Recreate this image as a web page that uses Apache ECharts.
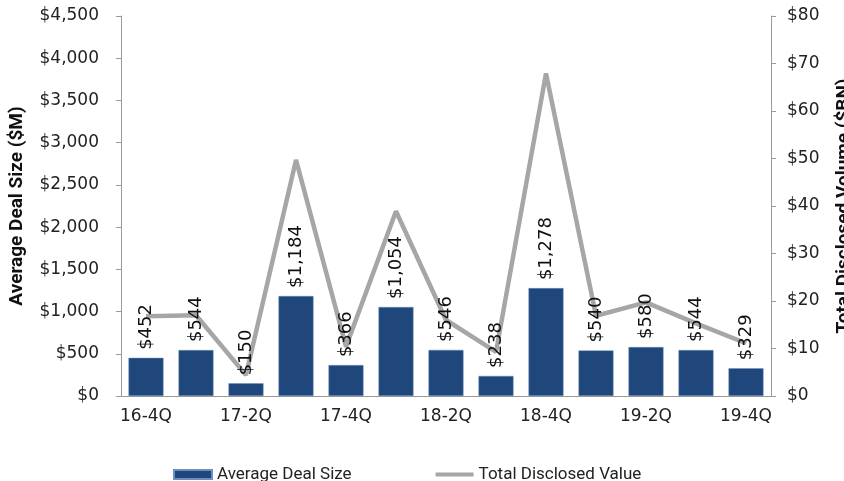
<!DOCTYPE html>
<html>
<head>
<meta charset="utf-8">
<script src="https://cdn.jsdelivr.net/npm/echarts@6/dist/echarts.min.js"></script>
<style>
  html, body { margin: 0; padding: 0; background: #fff; }
  #chart { width: 844px; height: 481px; }
</style>
</head>
<body>
<div id="chart"></div>
<script>
// quarters on the x axis
const quarters = ['16-4Q', '17-1Q', '17-2Q', '17-3Q', '17-4Q', '18-1Q', '18-2Q',
                  '18-3Q', '18-4Q', '19-1Q', '19-2Q', '19-3Q', '19-4Q'];
// average deal size, $M (bars, left axis)
const avgDealSize = [452, 544, 150, 1184, 366, 1054, 546, 238, 1278, 540, 580, 544, 329];
// total disclosed value, $BN (line, right axis)
const totalValue = [16.8, 17.0, 4.4, 49.7, 10.4, 38.9, 16.0, 9.3, 67.9, 16.9, 19.7, 15.3, 11.1];

const NUM_FONT = 'DejaVu Sans';
const TXT_FONT = 'Roboto';
const money = v => '$' + Number(v).toLocaleString('en-US');

const chart = echarts.init(document.getElementById('chart'));
chart.setOption({
    animation: false,
    textStyle: { fontFamily: TXT_FONT },
    grid: { left: 121, right: 73, top: 16, bottom: 85, outerBoundsMode: 'none', containLabel: false },
    legend: {
        left: 168,
        top: 461,
        itemWidth: 38,
        itemHeight: 9,
        itemGap: 82,
        textStyle: { fontFamily: TXT_FONT, fontSize: 17, color: '#222' },
        data: [
            { name: 'Average Deal Size', icon: 'rect' },
            { name: 'Total Disclosed Value', itemStyle: { opacity: 0 }, lineStyle: { width: 4 } }
        ]
    },
    xAxis: {
        type: 'category',
        data: quarters,
        axisLine: { lineStyle: { color: '#9a9a9a', width: 1 } },
        axisTick: { interval: 0, length: 5, lineStyle: { color: '#9a9a9a' } },
        axisLabel: { interval: 1, margin: 12, fontSize: 17, color: '#222', fontFamily: NUM_FONT }
    },
    yAxis: [{
        type: 'value',
        min: 0, max: 4500, interval: 500,
        name: 'Average Deal Size ($M)',
        nameLocation: 'middle',
        nameGap: 94,
        nameTextStyle: { fontSize: 19, fontWeight: 'bold', color: '#111', fontFamily: TXT_FONT },
        splitLine: { show: false },
        axisLine: { show: true, lineStyle: { color: '#9a9a9a' } },
        axisTick: { show: true, length: 5, lineStyle: { color: '#9a9a9a' } },
        axisLabel: { margin: 22, fontSize: 17, color: '#222', fontFamily: NUM_FONT, formatter: money }
    }, {
        type: 'value',
        min: 0, max: 80, interval: 10,
        name: 'Total Disclosed Volume ($BN)',
        nameLocation: 'middle',
        nameGap: 64,
        nameTextStyle: { fontSize: 19, fontWeight: 'bold', color: '#111', fontFamily: TXT_FONT },
        splitLine: { show: false },
        axisLine: { show: true, lineStyle: { color: '#9a9a9a' } },
        axisTick: { show: true, length: 5, lineStyle: { color: '#9a9a9a' } },
        axisLabel: { margin: 16, fontSize: 17, color: '#222', fontFamily: NUM_FONT, formatter: money }
    }],
    series: [{
        name: 'Average Deal Size',
        type: 'bar',
        yAxisIndex: 0,
        z: 3,
        data: avgDealSize,
        barCategoryGap: '30%',
        itemStyle: { color: '#1f477c', borderColor: '#6f8fbf', borderWidth: 0.5 },
        label: {
            show: true,
            position: 'top',
            distance: 8,
            rotate: 90,
            align: 'left',
            verticalAlign: 'middle',
            fontSize: 18,
            color: '#111',
            fontFamily: NUM_FONT,
            formatter: p => money(p.value)
        }
    }, {
        name: 'Total Disclosed Value',
        type: 'line',
        yAxisIndex: 1,
        z: 2,
        data: totalValue,
        symbol: 'none',
        showSymbol: false,
        lineStyle: { color: '#a6a6a6', width: 4.5 },
        itemStyle: { color: '#a6a6a6' }
    }]
});
</script>
</body>
</html>
